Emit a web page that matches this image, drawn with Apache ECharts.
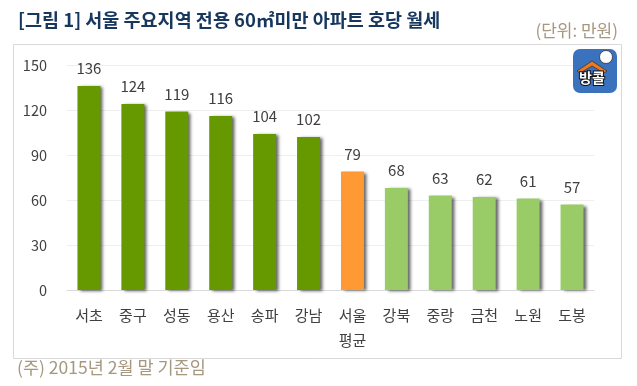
<!DOCTYPE html>
<html>
<head>
<meta charset="utf-8">
<style>
  html, body { margin: 0; padding: 0; background: #fff; }
  #chart { width: 637px; height: 386px; }
</style>
<script src="https://cdn.jsdelivr.net/npm/echarts@6/dist/echarts.min.js"></script>
</head>
<body>
<div id="chart"></div>
<script>
const categories = ['서초', '중구', '성동', '용산', '송파', '강남', '서울\n평균', '강북', '중랑', '금천', '노원', '도봉'];
const rents = [136, 124, 119, 116, 104, 102, 79, 68, 63, 62, 61, 57];
const barColors = ['#669900', '#669900', '#669900', '#669900', '#669900', '#669900', '#FF9933', '#99CC66', '#99CC66', '#99CC66', '#99CC66', '#99CC66'];
const yTicks = { min: 0, max: 150, interval: 30 };
const FONT = '"Noto Sans CJK KR", "Noto Sans", sans-serif';

const chart = echarts.init(document.getElementById('chart'), null, { renderer: 'canvas' });

chart.setOption({
  animation: false,
  textStyle: { fontFamily: FONT },
  grid: { left: 67, right: 43, top: 65, bottom: 96 },
  xAxis: {
    type: 'category',
    data: categories,
    axisTick: { show: false },
    axisLine: { lineStyle: { color: '#D9D9D9' } },
    axisLabel: { color: '#404040', fontSize: 15, fontFamily: FONT, margin: 13, lineHeight: 25 }
  },
  yAxis: {
    type: 'value',
    min: yTicks.min,
    max: yTicks.max,
    interval: yTicks.interval,
    axisLine: { show: false },
    axisTick: { show: false },
    axisLabel: { color: '#404040', fontSize: 14.5, fontFamily: FONT, margin: 20 },
    splitLine: { lineStyle: { color: '#EFEFEF' } }
  },
  series: [
    {
      type: 'bar',
      barWidth: 23,
      data: rents.map((v, i) => ({ value: v, itemStyle: { color: barColors[i] } })),
      itemStyle: {
        shadowColor: 'rgba(0,0,0,0.6)',
        shadowBlur: 3,
        shadowOffsetX: 3,
        shadowOffsetY: 1
      },
      label: {
        show: true,
        position: 'top',
        distance: 10,
        color: '#404040',
        fontSize: 15,
        fontFamily: FONT
      }
    }
  ],
  graphic: [
    // 바깥 테두리
    { type: 'rect', z: -1, shape: { x: 13.5, y: 44.5, width: 608, height: 314 }, style: { fill: '#fff', stroke: '#D9D9D9', lineWidth: 1 } },
    { type: 'text', left: 18, top: 11, style: { text: '[그림 1] 서울 주요지역 전용 60㎡미만 아파트 호당 월세', fill: '#17375E', font: 'bold 18.5px ' + FONT } },
    { type: 'text', right: 19, top: 22, style: { text: '(단위: 만원)', fill: '#A6977F', font: '17px ' + FONT } },
    { type: 'text', left: 17, top: 359, style: { text: '(주) 2015년 2월 말 기준임', fill: '#A6977F', font: '17.5px ' + FONT } },
    // 방콜 로고
    { type: 'rect', z: 10, shape: { x: 573, y: 49, width: 44, height: 44, r: 7 }, style: { fill: '#3A72BE' } },
    { type: 'polygon', z: 11, shape: { points: [[577, 71], [592, 61], [607, 71], [604, 73], [592, 66], [580, 73]] }, style: { fill: '#EE7A1F', stroke: '#222', lineWidth: 0.6 } },
    { type: 'circle', z: 11, shape: { cx: 606, cy: 57, r: 6.5 }, style: { fill: '#fff', stroke: '#333', lineWidth: 0.8 } },
    { type: 'text', z: 12, left: 578, top: 70, style: { text: '방콜', fill: '#fff', stroke: '#111', lineWidth: 2, font: 'bold 14px ' + FONT } }
  ]
});

window.addEventListener('resize', () => chart.resize());
</script>
</body>
</html>
